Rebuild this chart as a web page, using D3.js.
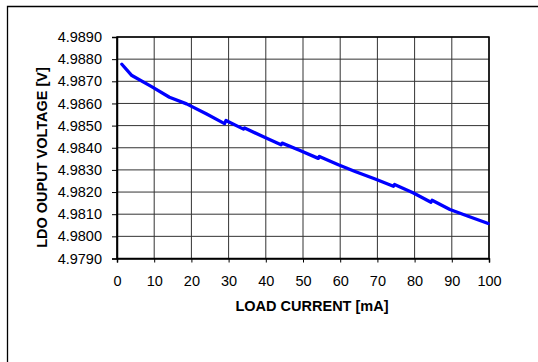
<!DOCTYPE html>
<html>
<head>
<meta charset="utf-8">
<script src="https://cdn.jsdelivr.net/npm/d3@7"></script>
<style>
  html, body { margin: 0; padding: 0; background: #fff; }
  svg { display: block; }
  text { font-family: "Liberation Sans", Arial, sans-serif; fill: #000; }
</style>
</head>
<body>
<svg id="chart" width="538" height="362"></svg>
<script>
// Load current sweep [mA] and measured LDO output voltage [V]
const loadCurrent = [1.3, 4.0, 9.3, 14.1, 18.7, 24.1, 28.9, 29.3, 34.0, 34.3, 39.8, 44.1, 44.4,
  49.2, 54.1, 54.4, 59.5, 64.0, 69.4, 74.3, 74.6, 79.7, 84.4, 84.7, 89.5, 94.4, 99.8];
const outputVoltage = [4.98777, 4.98726, 4.98676, 4.98628, 4.98598, 4.98552, 4.98509, 4.98523,
  4.98484, 4.98489, 4.98446, 4.98413, 4.98421, 4.98388, 4.98352, 4.98361, 4.98323, 4.98293,
  4.98259, 4.98226, 4.98234, 4.98196, 4.98154, 4.98163, 4.98121, 4.98091, 4.98058];

const xTicks = [0, 10, 20, 30, 40, 50, 60, 70, 80, 90, 100];
const yTicks = [4.979, 4.980, 4.981, 4.982, 4.983, 4.984, 4.985, 4.986, 4.987, 4.988, 4.989];

const xTitle = "LOAD CURRENT [mA]";
const yTitle = "LDO OUPUT VOLTAGE [V]";

const svg = d3.select("#chart");
const plot = { left: 117, right: 489, top: 37, bottom: 258.5 };

const x = d3.scaleLinear().domain([0, 100]).range([plot.left, plot.right]);
const y = d3.scaleLinear().domain([4.979, 4.989]).range([plot.bottom, plot.top]);

// outer frame
svg.append("path")
  .attr("d", `M7.5,362 V6.5 H538`)
  .attr("fill", "none").attr("stroke", "#000").attr("stroke-width", 1.3);

// grid
const grid = svg.append("g").attr("stroke", "#333").attr("stroke-width", 1);
grid.selectAll("line.v").data(xTicks).join("line")
  .attr("x1", d => x(d)).attr("x2", d => x(d))
  .attr("y1", plot.top).attr("y2", plot.bottom);
grid.selectAll("line.h").data(yTicks).join("line")
  .attr("x1", plot.left).attr("x2", plot.right)
  .attr("y1", d => y(d)).attr("y2", d => y(d));

// plot border
svg.append("rect")
  .attr("x", plot.left).attr("y", plot.top)
  .attr("width", plot.right - plot.left).attr("height", plot.bottom - plot.top)
  .attr("fill", "none").attr("stroke", "#000").attr("stroke-width", 1.5);

// axes
const fmtY = d3.format(".4f");
const yAxis = svg.append("g")
  .attr("transform", `translate(${plot.left},0)`)
  .call(d3.axisLeft(y).tickValues(yTicks).tickFormat(fmtY).tickSize(5).tickPadding(10));
const xAxis = svg.append("g")
  .attr("transform", `translate(0,${plot.bottom})`)
  .call(d3.axisBottom(x).tickValues(xTicks).tickFormat(d3.format("d")).tickSize(4).tickPadding(13));
[yAxis, xAxis].forEach(a => {
  a.select(".domain").attr("stroke", "#000").attr("stroke-width", 1.5);
  a.selectAll(".tick line").attr("stroke", "#000");
  a.selectAll(".tick text")
    .attr("font-family", '"Liberation Sans", Arial, sans-serif')
    .attr("font-size", 14.5).attr("fill", "#000");
});

// axis titles
svg.append("text")
  .attr("x", 312).attr("y", 311)
  .attr("text-anchor", "middle")
  .attr("font-size", 14.5).attr("font-weight", "bold")
  .text(xTitle);
svg.append("text")
  .attr("transform", "translate(46.5,157.5) rotate(-90)")
  .attr("text-anchor", "middle")
  .attr("font-size", 14.5).attr("font-weight", "bold")
  .text(yTitle);

// measured curve
const pts = loadCurrent.map((c, i) => [c, outputVoltage[i]]);
svg.append("path")
  .datum(pts)
  .attr("fill", "none")
  .attr("stroke", "#0000ff")
  .attr("stroke-width", 3.3)
  .attr("stroke-linejoin", "round")
  .attr("stroke-linecap", "round")
  .attr("d", d3.line().x(d => x(d[0])).y(d => y(d[1])));
</script>
</body>
</html>
